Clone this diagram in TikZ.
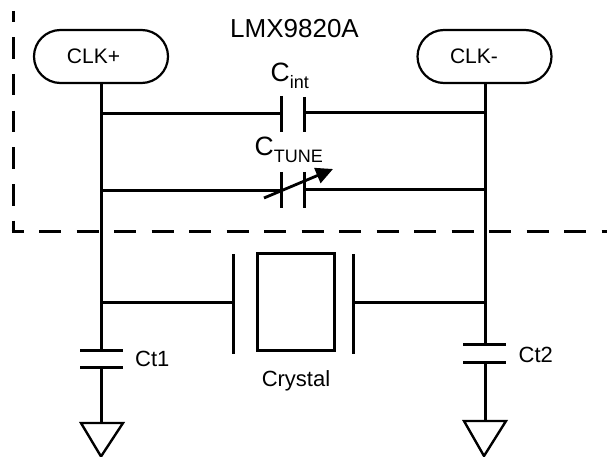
\documentclass[tikz,border=0pt]{standalone}
\usepackage{fontspec}
\setmainfont{Liberation Sans}
\usetikzlibrary{arrows.meta,shapes.misc}
\tikzset{
  wire/.style={line width=3pt,black},
  plate/.style={line width=3pt,black},
  boundaryv/.style={line width=3pt,black,dash pattern=on 21.5pt off 15.2pt,dash phase=10.5pt},
  boundaryh/.style={line width=3pt,black,dash pattern=on 22pt off 15.5pt,dash phase=10pt},
  pin/.style={draw,line width=2.2pt,rounded rectangle,minimum width=134pt,minimum height=53pt,inner sep=0pt,font=\fontsize{21}{23}\selectfont},
  lbl/.style={inner sep=0pt,font=\fontsize{22}{25}\selectfont},
  bigl/.style={inner sep=0pt,font=\fontsize{26.5}{29}\selectfont},
  gnd/.style={line width=2.4pt,line join=miter}
}
\newcommand{\lowsub}[1]{\raisebox{-6.5pt}{\fontsize{18}{20}\selectfont #1}}
\begin{document}
\begin{tikzpicture}[x=1pt,y=-1pt]
\useasboundingbox (0,0) rectangle (607,457);
\fill[white] (0,0) rectangle (607,457);
% boundary
\coordinate (bTop) at (13,11);
\coordinate (bCorner) at (13,231);
\coordinate (bEnd) at (607,231);
\draw[boundaryv] (bTop) -- (bCorner);
\draw[boundaryh] (11.5,231) -- (bEnd);
% pins
\node[pin] (clkp) at (101,56.5) {\raisebox{-1.5pt}{CLK+}\hspace*{15pt}};
\node[pin] (clkm) at (484.5,56.5) {\raisebox{-1.5pt}{CLK-}\hspace*{21pt}};
% junctions
\coordinate (a1) at (101,114); \coordinate (a2) at (101,190); \coordinate (a3) at (101,302);
\coordinate (b1) at (485,113); \coordinate (b2) at (485,189); \coordinate (b3) at (485,302);
% Ct1 and Ct2
\coordinate (c1t) at (101,350); \coordinate (c1b) at (101,367); \coordinate (g1) at (101,423);
\coordinate (c2t) at (485,344); \coordinate (c2b) at (485,362); \coordinate (g2) at (485,421);
\draw[wire] (clkp.south) -- (c1t);
\draw[wire] (c1b) -- (g1);
\draw[wire] (clkm.south -| c2t) -- (c2t);
\draw[wire] (c2b) -- (g2);
\draw[plate] (80,350) -- (123,350);
\draw[plate] (80,367) -- (123,367);
\draw[plate] (463,344) -- (506,344);
\draw[plate] (463,362) -- (506,362);
\draw[gnd] (81,423) -- (123,423) -- (101,456.5) -- cycle;
\draw[gnd] (464,421) -- (506,421) -- (484,456) -- cycle;
% Cint
\coordinate (ci1) at (281.5,114); \coordinate (ci2) at (304.5,113);
\draw[wire] (a1) -- (ci1);
\draw[wire] (ci2) -- (b1);
\draw[plate] (281.5,96) -- (281.5,132);
\draw[plate] (304.5,97) -- (304.5,132);
% Ctune
\coordinate (ct1) at (281.5,190); \coordinate (ct2) at (304.5,189);
\draw[wire] (a2) -- (ct1);
\draw[wire] (ct2) -- (b2);
\draw[plate] (281.5,172) -- (281.5,207.5);
\draw[plate] (304.5,172) -- (304.5,207.5);
\coordinate (arS) at (264,198); \coordinate (arE) at (333,169);
\draw[line width=2.8pt,-{Triangle[length=17pt,width=16pt]}] (arS) -- (arE);
% Crystal
\coordinate (x1) at (233.5,302); \coordinate (x2) at (353.5,302);
\draw[wire] (a3) -- (x1);
\draw[wire] (x2) -- (b3);
\draw[plate] (233.5,254) -- (233.5,353.5);
\draw[plate] (353.5,254) -- (353.5,353.5);
\draw[plate] (257,253) rectangle (334,350);
% labels
\node[inner sep=0pt,anchor=base,font=\fontsize{26}{28}\selectfont] (title) at (294.5,38) {LMX9820A};
\node[bigl,anchor=base west] (cint) at (270.5,82) {C\lowsub{int}};
\node[bigl,anchor=base west] (ctune) at (254.5,156) {C\lowsub{TUNE}};
\node[lbl,anchor=base west] (ct1l) at (135,366) {Ct1};
\node[lbl,anchor=base west] (ct2l) at (518.5,362.5) {Ct2};
\node[lbl,anchor=base] (crystal) at (296,386) {Crystal};
\end{tikzpicture}
\end{document}
